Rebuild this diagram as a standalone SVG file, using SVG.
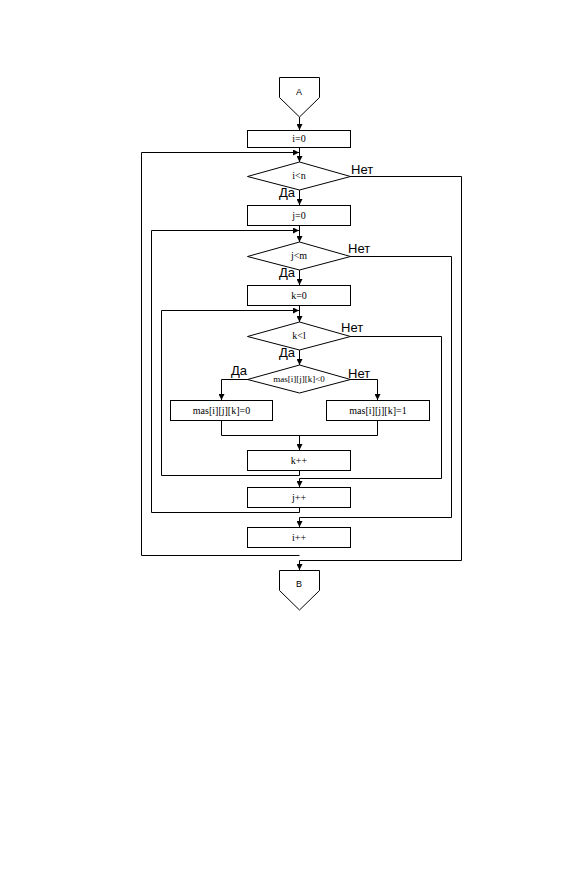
<svg xmlns="http://www.w3.org/2000/svg" width="564" height="886" viewBox="0 0 564 886">
<style>
.s{fill:#fff;stroke:#000;stroke-width:1}
.c{fill:none;stroke:#000;stroke-width:1}
.t{font-family:"Liberation Serif",serif;font-size:10px;text-anchor:middle;dominant-baseline:central}
.ts{font-family:"Liberation Serif",serif;font-size:9px;text-anchor:middle;dominant-baseline:central}
.tc{font-family:"Liberation Sans",sans-serif;font-size:9px;text-anchor:middle;dominant-baseline:central}
.l{font-family:"Liberation Sans",sans-serif;font-size:13px}
</style>
<defs>
<marker id="a" markerUnits="userSpaceOnUse" markerWidth="6" markerHeight="6" refX="6" refY="3" orient="auto">
<path d="M0,0 L6,3 L0,6 z" fill="#000"/>
</marker>
</defs>
<rect width="564" height="886" fill="#fff"/>
<g id="connectors">
<path class="c" d="M299.5,117 V130" marker-end="url(#a)"/>
<path class="c" d="M299.5,147 V162" marker-end="url(#a)"/>
<path class="c" d="M299.5,555.5 H141.5 V152.5 H299" marker-end="url(#a)"/>
<path class="c" d="M299.5,190 V205" marker-end="url(#a)"/>
<path class="c" d="M350,176.5 H461.5 V560.5 H299.5 V570" marker-end="url(#a)"/>
<path class="c" d="M299.5,225 V242" marker-end="url(#a)"/>
<path class="c" d="M299.5,507 V512.5 H151.5 V230.5 H299" marker-end="url(#a)"/>
<path class="c" d="M299.5,270 V285" marker-end="url(#a)"/>
<path class="c" d="M350,256.5 H451.5 V517.5 H299.5 V527" marker-end="url(#a)"/>
<path class="c" d="M299.5,305 V322" marker-end="url(#a)"/>
<path class="c" d="M299.5,470 V475.5 H161.5 V310.5 H299" marker-end="url(#a)"/>
<path class="c" d="M350,336.5 H441.5 V478.5 H299.5 V487" marker-end="url(#a)"/>
<path class="c" d="M299.5,350 V365" marker-end="url(#a)"/>
<path class="c" d="M248,379.5 H221.5 V400" marker-end="url(#a)"/>
<path class="c" d="M350,379.5 H377.5 V400" marker-end="url(#a)"/>
<path class="c" d="M221.5,420 V435.5 H377.5 V420"/>
<path class="c" d="M299.5,435.5 V450" marker-end="url(#a)"/>
</g>
<g id="A"><path class="s" d="M279.5,77.5 H319.5 V97.5 L299.5,117 L279.5,97.5 Z"/><text class="tc" x="299" y="92">A</text></g>
<g id="i0"><rect class="s" x="247.5" y="130.5" width="103" height="17"/><text class="t" x="299" y="138.5">i=0</text></g>
<g id="in"><path class="s" d="M299.5,162 L350.5,176.5 L299.5,190 L247.5,176.5 Z"/><text class="t" x="299" y="175.5">i&lt;n</text></g>
<g id="j0"><rect class="s" x="247.5" y="205.5" width="103" height="20"/><text class="t" x="299" y="215">j=0</text></g>
<g id="jm"><path class="s" d="M299.5,242 L350.5,256.5 L299.5,270 L247.5,256.5 Z"/><text class="t" x="299" y="255.5">j&lt;m</text></g>
<g id="k0"><rect class="s" x="247.5" y="285.5" width="103" height="20"/><text class="t" x="299" y="295">k=0</text></g>
<g id="kl"><path class="s" d="M299.5,322 L350.5,336.5 L299.5,350 L247.5,336.5 Z"/><text class="t" x="299" y="335.5">k&lt;l</text></g>
<g id="cond"><path class="s" d="M299.5,365 L350.5,379.5 L299.5,393 L247.5,379.5 Z"/><text class="ts" x="299" y="378.5">mas[i][j][k]&lt;0</text></g>
<g id="set0"><rect class="s" x="170.5" y="400.5" width="102" height="20"/><text class="t" x="221.5" y="410">mas[i][j][k]=0</text></g>
<g id="set1"><rect class="s" x="326.5" y="400.5" width="103" height="20"/><text class="t" x="378" y="410">mas[i][j][k]=1</text></g>
<g id="kpp"><rect class="s" x="247.5" y="450.5" width="103" height="20"/><text class="t" x="299" y="460">k++</text></g>
<g id="jpp"><rect class="s" x="247.5" y="487.5" width="103" height="20"/><text class="t" x="299" y="497">j++</text></g>
<g id="ipp"><rect class="s" x="247.5" y="527.5" width="103" height="20"/><text class="t" x="299" y="537">i++</text></g>
<g id="B"><path class="s" d="M279.5,570.5 H319.5 V590.5 L299.5,610 L279.5,590.5 Z"/><text class="tc" x="299" y="584">B</text></g>
<g id="labels">
<text class="l" x="351" y="174">Нет</text>
<text class="l" x="279" y="197">Да</text>
<text class="l" x="348" y="253">Нет</text>
<text class="l" x="279" y="277">Да</text>
<text class="l" x="341" y="332">Нет</text>
<text class="l" x="279" y="357">Да</text>
<text class="l" x="231" y="375">Да</text>
<text class="l" x="348" y="378">Нет</text>
</g>
</svg>
